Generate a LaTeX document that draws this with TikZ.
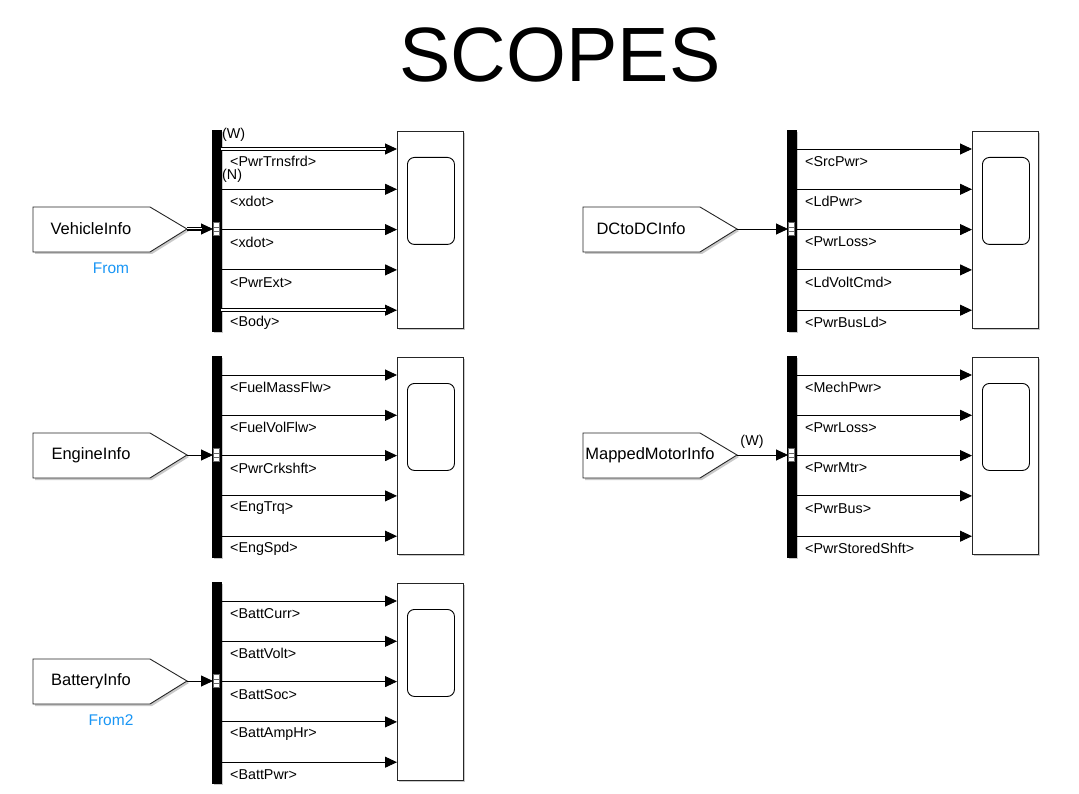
\documentclass[tikz,border=0pt]{standalone}
\usepackage{fontspec}
\setmainfont{Liberation Sans}
\usetikzlibrary{arrows.meta,shadows}
\definecolor{fromblue}{RGB}{25,150,245}
\tikzset{
  sig/.style={line width=0.9pt,-{Triangle[length=12pt,width=11pt]}},
  busbar/.style={draw=black,fill=black,minimum width=8.5pt,minimum height=201pt,inner sep=0pt,anchor=north west,
    drop shadow={shadow xshift=2pt,shadow yshift=-2pt,fill=black!35,opacity=0.6}},
  scopebox/.style={draw=black!85,fill=white,line width=0.9pt,minimum width=66pt,minimum height=197pt,inner sep=0pt,anchor=north west,
    drop shadow={shadow xshift=2pt,shadow yshift=-2pt,fill=black!35,opacity=0.6}},
  screen/.style={draw=black,line width=0.9pt,rounded corners=7pt,minimum width=47pt,minimum height=87pt,inner sep=0pt,anchor=north west},
  portbox/.style={draw=black!60,fill=white,line width=0.5pt,minimum width=6pt,minimum height=13pt,inner sep=0pt},
  fromblk/.style={draw=black!85,fill=white,line width=0.9pt,
    drop shadow={shadow xshift=2pt,shadow yshift=-2pt,fill=black!35,opacity=0.6}},
  blkname/.style={font=\fontsize{16.5}{19}\selectfont,inner sep=0pt},
  lab/.style={font=\fontsize{14.3}{17}\selectfont,inner sep=0pt,anchor=west},
  bluelab/.style={font=\fontsize{15.5}{18}\selectfont,text=fromblue,inner sep=0pt},
}
% #1 id, #2 bus x, #3 top y, #4 from block left x, #5 name centre x, #6 block name, #7 labels
\newcommand{\scopegrp}[7]{%
  \node[busbar] (#1bus) at (#2,#3) {};
  \node[scopebox] (#1scope) at (#2+185,#3+1) {};
  \node[screen] (#1screen) at (#2+195,#3+27) {};
  \node[portbox] (#1port) at (#2+4.25,#3+99) {};
  \draw[line width=0.5pt,black!60] ([yshift=2.2pt]#1port.west) -- ([yshift=2.2pt]#1port.east)
                                    ([yshift=-2.2pt]#1port.west) -- ([yshift=-2.2pt]#1port.east);
  \draw[fromblk] (#4,#3+77) -- (#4+117,#3+77) -- (#4+154,#3+99) -- (#4+117,#3+122) -- (#4,#3+122) -- cycle;
  \coordinate (#1tip) at (#4+154,#3+99);
  \node[blkname] (#1name) at (#5,#3+99) {#6};
  \draw[sig] (#1tip) -- (#1port.west);
  \foreach \lab [count=\i from 0] in {#7} {
    \coordinate (#1o\i) at (#2+8.5,#3+19+40.3*\i);
    \draw[sig] (#1o\i) -- (#1o\i -| #1scope.west);
    \node[lab] (#1l\i) at (#2+18,#3+31.5+40.3*\i) {\lab};
  }
}
\begin{document}
\begin{tikzpicture}[x=1pt,y=-1pt]
\useasboundingbox[fill=white] (0,0) rectangle (1079,794);
\node[font=\fontsize{77}{90}\selectfont,inner sep=0pt,anchor=base] (title) at (560,82) {SCOPES};

\scopegrp{veh}{212}{130}{33}{91}{VehicleInfo}{<PwrTrnsfrd>,<xdot>,<xdot>,<PwrExt>,<Body>}
\scopegrp{eng}{212}{356}{33}{91}{EngineInfo}{<FuelMassFlw>,<FuelVolFlw>,<PwrCrkshft>,<EngTrq>,<EngSpd>}
\scopegrp{bat}{212}{582}{33}{91}{BatteryInfo}{<BattCurr>,<BattVolt>,<BattSoc>,<BattAmpHr>,<BattPwr>}
\scopegrp{dcd}{787}{130}{583}{641}{DCtoDCInfo}{<SrcPwr>,<LdPwr>,<PwrLoss>,<LdVoltCmd>,<PwrBusLd>}
\scopegrp{mot}{787}{356}{583}{650}{MappedMotorInfo}{<MechPwr>,<PwrLoss>,<PwrMtr>,<PwrBus>,<PwrStoredShft>}

% bus (double / triple) signal lines in the vehicle group
\draw[line width=3.4pt] (veho0) -- ([xshift=-11pt]veho0 -| vehscope.west);
\draw[white,line width=1.4pt] (veho0) -- ([xshift=-11pt]veho0 -| vehscope.west);
\draw[line width=3.4pt] (veho4) -- ([xshift=-11pt]veho4 -| vehscope.west);
\draw[white,line width=1.4pt] (veho4) -- ([xshift=-11pt]veho4 -| vehscope.west);
\draw[line width=4.6pt] (vehtip) -- ([xshift=-11pt]vehport.west);
\draw[white,line width=2.8pt] (vehtip) -- ([xshift=-11pt]vehport.west);
\draw[line width=0.9pt] (vehtip) -- ([xshift=-11pt]vehport.west);

\node[lab] (vehW) at (222,135) {(W)};
\node[lab] (vehN) at (222,176) {(N)};
\node[lab,anchor=center] (motW) at (752,442) {(W)};
\node[bluelab] (vehfrom) at (111,268) {From};
\node[bluelab] (batfrom) at (111,720) {From2};
\end{tikzpicture}
\end{document}
